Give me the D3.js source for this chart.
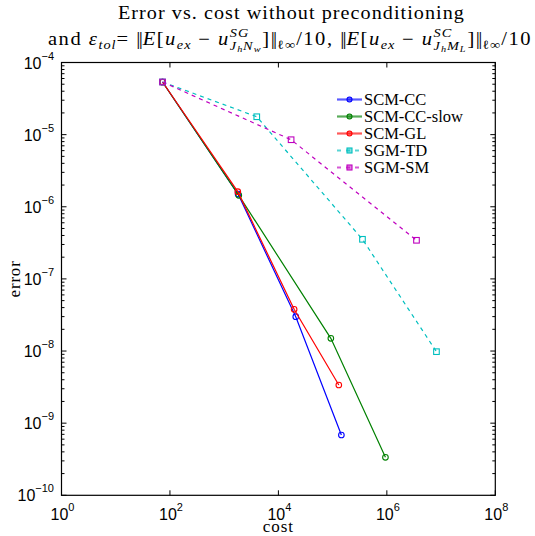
<!DOCTYPE html>
<html><head><meta charset="utf-8">
<script src="https://cdn.jsdelivr.net/npm/d3@7"></script>
<style>body{margin:0;background:#fff}svg{display:block}</style>
</head><body>
<svg id="c" width="535" height="536"></svg>
<script>
// ---- data ----
const seriesNames = ["SCM-CC","SCM-CC-slow","SCM-GL","SGM-TD","SGM-SM"];
const seriesColors = ["#0000ff","#008000","#ff0000","#00bfbf","#bf00bf"];
const seriesDashed = [false,false,false,true,true];
const seriesMarker = ["circle","circle","circle","square","square"];
const costSCMCC = [73, 1805, 20900, 145000];
const errSCMCC  = [5.37e-5, 1.50e-6, 2.99e-8, 6.85e-10];
const costSCMCCslow = [73, 1860, 92700, 942000];
const errSCMCCslow  = [5.37e-5, 1.44e-6, 1.50e-8, 3.36e-10];
const costSCMGL = [73, 1782, 19500, 130000];
const errSCMGL  = [5.37e-5, 1.62e-6, 3.79e-8, 3.38e-9];
const costSGMTD = [73, 3990, 355000, 8220000];
const errSGMTD  = [5.37e-5, 1.77e-5, 3.54e-7, 9.8e-9];
const costSGMSM = [73, 17150, 3520000];
const errSGMSM  = [5.37e-5, 8.5e-6, 3.43e-7];
const xTickExp = [0,2,4,6,8];
const yTickExp = [-4,-5,-6,-7,-8,-9,-10];

const seriesCost = [costSCMCC,costSCMCCslow,costSCMGL,costSGMTD,costSGMSM];
const seriesErr  = [errSCMCC,errSCMCCslow,errSCMGL,errSGMTD,errSGMSM];

const svg = d3.select("#c");
const L=61.5, R=495.3, T=62.5, B=495.3;
const x = d3.scaleLog().domain([1,1e8]).range([L,R]);
const y = d3.scaleLog().domain([1e-10,1e-4]).range([B,T]);

// frame
svg.append("rect").attr("x",L).attr("y",T).attr("width",R-L).attr("height",B-T)
  .attr("fill","none").attr("stroke","#000").attr("stroke-width",1.2);

// ticks
const tg = svg.append("g").attr("stroke","#000").attr("stroke-width",1);
xTickExp.forEach(e=>{
  const px = x(Math.pow(10,e));
  tg.append("line").attr("x1",px).attr("x2",px).attr("y1",B).attr("y2",B-5);
  tg.append("line").attr("x1",px).attr("x2",px).attr("y1",T).attr("y2",T+5);
});
for(let e=-10;e<=-4;e++){
  const py = y(Math.pow(10,e));
  tg.append("line").attr("x1",L).attr("x2",L+5).attr("y1",py).attr("y2",py);
  tg.append("line").attr("x1",R).attr("x2",R-5).attr("y1",py).attr("y2",py);
  if(e<-4){
    for(let m=2;m<=9;m++){
      const pm = y(m*Math.pow(10,e));
      tg.append("line").attr("x1",L).attr("x2",L+3).attr("y1",pm).attr("y2",pm);
      tg.append("line").attr("x1",R).attr("x2",R-3).attr("y1",pm).attr("y2",pm);
    }
  }
}

// tick labels
const sans = "'Liberation Sans', Arial, sans-serif";
function expLabel(g, e, anchor, px, py){
  const t = g.append("text").attr("font-family",sans).attr("font-size",16).attr("fill","#000");
  t.append("tspan").text("10");
  t.append("tspan").attr("font-size",11).attr("dy",-9).text(e<0? "\u2212"+(-e) : String(e));
  const w = t.node().getComputedTextLength();
  const x0 = anchor==="end" ? px - w : px - w/2;
  t.attr("x",x0).attr("y",py);
}
xTickExp.forEach(e=> expLabel(svg, e, "middle", x(Math.pow(10,e))+1, 520));
yTickExp.forEach(e=> expLabel(svg, e, "end", 54, y(Math.pow(10,e))+6));

// axis labels
const cmr = "'Liberation Serif', 'DejaVu Serif', serif";
svg.append("text").attr("x",(L+R)/2).attr("y",532).attr("text-anchor","middle")
  .attr("font-family",cmr).attr("font-size",17).attr("letter-spacing",1).text("cost");
svg.append("text").attr("transform",`translate(20,${(T+B)/2}) rotate(-90)`).attr("text-anchor","middle")
  .attr("font-family",cmr).attr("font-size",17).attr("letter-spacing",0.8).text("error");

// series
const line = d3.line().x(d=>x(d[0])).y(d=>y(d[1]));
seriesNames.forEach((n,i)=>{
  const pts = seriesCost[i].map((c,j)=>[c, seriesErr[i][j]]);
  const g = svg.append("g");
  g.append("path").attr("d",line(pts)).attr("fill","none").attr("stroke",seriesColors[i])
    .attr("stroke-width",1.2).attr("stroke-dasharray",seriesDashed[i]?"4,4":null);
  pts.forEach(p=>{
    if(seriesMarker[i]==="circle"){
      g.append("circle").attr("cx",x(p[0])).attr("cy",y(p[1])).attr("r",2.8)
        .attr("fill","none").attr("stroke",seriesColors[i]).attr("stroke-width",1.1);
    } else {
      g.append("rect").attr("x",x(p[0])-2.8).attr("y",y(p[1])-2.8).attr("width",5.6).attr("height",5.6)
        .attr("fill","none").attr("stroke",seriesColors[i]).attr("stroke-width",1.1);
    }
  });
});

// legend
const lg = svg.append("g");
seriesNames.forEach((n,i)=>{
  const ly = 99.5 + i*17;
  lg.append("line").attr("x1",337).attr("x2",362).attr("y1",ly).attr("y2",ly)
    .attr("stroke",seriesColors[i]).attr("stroke-width",2.2).attr("stroke-opacity",0.65)
    .attr("stroke-dasharray",seriesDashed[i]?"4,5":null);
  if(seriesMarker[i]==="circle"){
    lg.append("circle").attr("cx",349.5).attr("cy",ly).attr("r",2.5)
      .attr("fill",seriesColors[i]).attr("fill-opacity",0.5).attr("stroke",seriesColors[i]).attr("stroke-width",1.1);
  } else {
    lg.append("rect").attr("x",347).attr("y",ly-2.5).attr("width",5).attr("height",5)
      .attr("fill",seriesColors[i]).attr("fill-opacity",0.5).attr("stroke",seriesColors[i]).attr("stroke-width",1.1);
  }
  lg.append("text").attr("x",364).attr("y",ly+5.5).attr("font-family",cmr).attr("font-size",16.5).text(n);
});

const GS = 1.12; // horizontal glyph widening to mimic Computer Modern
// title line 1
(function(){
  const txt = "Error vs. cost without preconditioning";
  const g = svg.append("g");
  const t = g.append("text").attr("x",0).attr("y",19).attr("font-family",cmr).attr("font-size",18).text(txt);
  const w0 = t.node().getComputedTextLength();
  const ls = Math.max(0,(347/GS - w0)/txt.length);
  t.attr("letter-spacing",ls);
  const w1 = t.node().getComputedTextLength();
  g.attr("transform",`translate(118,0) scale(${347/w1},1)`);
})();

// title line 2 with math layout
const NB = "|\u2009|"; // norm bars
const pieces = [
  {t:"and ", s:18},
  {t:"\u03b5", s:18, i:1},
  {t:"tol", s:12.5, i:1, dy:4},
  {t:"= ", s:18},
  {t:"||", s:18, bars:1},
  {t:"E", s:18, i:1},
  {t:"[", s:18},
  {t:"u", s:18, i:1},
  {t:"ex", s:12.5, i:1, dy:4},
  {t:" \u2212 ", s:18},
  {t:"u", s:18, i:1},
  {stack:true, sup:"SG", sub:[["J",12.5,0],["h",9,2],["N",12.5,0],["w",9,2]]},
  {t:"]", s:18},
  {t:"||", s:18, bars:1},
  {t:"\u2113\u221e", s:12.5, dy:4},
  {t:"/10, ", s:18},
  {t:"||", s:18, bars:1},
  {t:"E", s:18, i:1},
  {t:"[", s:18},
  {t:"u", s:18, i:1},
  {t:"ex", s:12.5, i:1, dy:4},
  {t:" \u2212 ", s:18},
  {t:"u", s:18, i:1},
  {stack:true, sup:"SC", sub:[["J",12.5,0],["h",9,2],["M",12.5,0],["L",9,2]]},
  {t:"]", s:18},
  {t:"||", s:18, bars:1},
  {t:"\u2113\u221e", s:12.5, dy:4},
  {t:"/10", s:18}
];
const base = 45;
const targetL = 48, targetW = 484;
function layout(ls){
  const g = svg.append("g");
  let cx = 0;
  function put(txt, size, ital, dy, extraLs){
    const t = g.append("text").attr("x",cx).attr("y",base+(dy||0)).attr("font-family",cmr)
      .attr("font-size",size).attr("font-style",ital?"italic":"normal")
      .attr("letter-spacing", extraLs!=null ? extraLs : ls*size/18)
      .style("white-space","pre").text(txt);
    return t.node().getComputedTextLength();
  }
  let nChars = 0;
  pieces.forEach(p=>{
    if(p.stack){
      const start = cx;
      const wsup = put(p.sup, 12.5, 1, -8);
      let sx = start;
      p.sub.forEach(q=>{ cx = sx; sx += put(q[0], q[1], 1, 5+q[2]); });
      cx = Math.max(start+wsup, sx) + 1;
      nChars += 4;
    } else if(p.bars){
      cx += put(p.t, p.s, 0, 0, -1.5) + ls;
      nChars += 1;
    } else {
      cx += put(p.t, p.s, p.i, p.dy);
      nChars += p.t.length;
    }
  });
  return {g, w:cx, n:nChars};
}
const first = layout(0);
const ls2 = Math.max(0, (targetW/GS - first.w) / first.n);
first.g.remove();
const second = layout(ls2);
second.g.attr("transform",`translate(${targetL},0) scale(${targetW/second.w},1)`);
</script>
</body></html>
